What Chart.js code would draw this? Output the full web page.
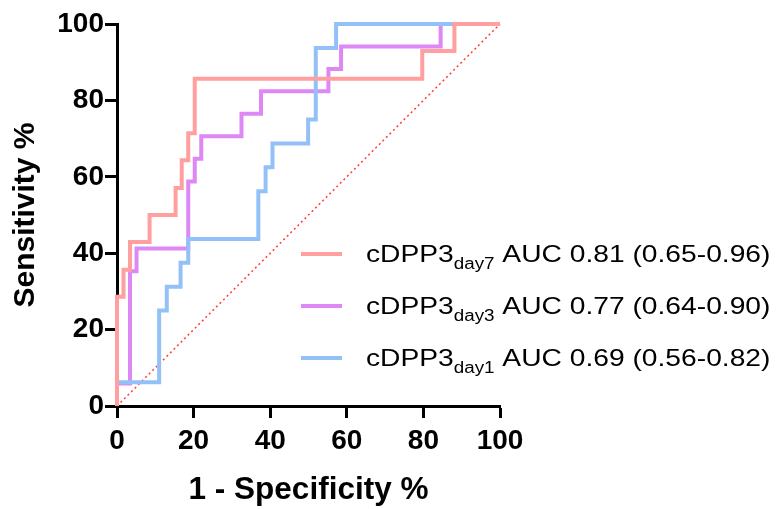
<!DOCTYPE html>
<html>
<head>
<meta charset="utf-8">
<script src="https://cdn.jsdelivr.net/npm/chart.js@4"></script>
<style>
  html, body { margin: 0; padding: 0; background: #fff; }
  #roc { display: block; }
</style>
</head>
<body>
<canvas id="roc" width="777" height="509"></canvas>
<script>
// ROC step vertices (1 - specificity %, sensitivity %)
const day7X = [0, 0, 1.7, 3.4, 8.5, 15.3, 16.9, 18.6, 20.3, 79.7, 88.1, 100];
const day7Y = [0, 28.6, 35.7, 42.9, 50, 57.1, 64.3, 71.4, 85.7, 92.9, 100, 100];

const day3X = [0, 0, 3.4, 5.1, 18.6, 20.3, 22.0, 32.5, 37.6, 55.2, 58.5, 84.5, 100];
const day3Y = [0, 5.9, 35.3, 41.2, 58.8, 64.7, 70.6, 76.5, 82.4, 88.2, 94.1, 100, 100];

const day1X = [0, 0, 11.0, 13.0, 16.6, 18.6, 36.9, 38.8, 40.6, 49.9, 51.9, 57.2, 100];
const day1Y = [0, 6.25, 25, 31.25, 37.5, 43.75, 56.25, 62.5, 68.75, 75, 93.75, 100, 100];

const refX = [0, 100];
const refY = [0, 100];

const axisTicks = [0, 20, 40, 60, 80, 100];

const legendMain = ['cDPP3', 'cDPP3', 'cDPP3'];
const legendSub = ['day7', 'day3', 'day1'];
const legendAuc = [' AUC 0.81 (0.65-0.96)', ' AUC 0.77 (0.64-0.90)', ' AUC 0.69 (0.56-0.82)'];

const colors = ['#FF9F9F', '#DD88F5', '#93C1F7'];

function toPoints(xs, ys) {
    return xs.map((x, i) => ({ x: x, y: ys[i] }));
}

function stepLine(xs, ys, color) {
    return {
        data: toPoints(xs, ys),
        borderColor: color,
        backgroundColor: color,
        borderWidth: 4,
        pointRadius: 0,
        stepped: 'before',
        showLine: true,
        clip: false
    };
}

// legend drawn by hand to get the subscripts
const rocLegend = {
    id: 'rocLegend',
    afterDraw(chart) {
        const ctx = chart.ctx;
        const rows = [254, 306, 358];
        ctx.save();
        rows.forEach((y, i) => {
            ctx.strokeStyle = colors[i];
            ctx.lineWidth = 4;
            ctx.beginPath();
            ctx.moveTo(301, y);
            ctx.lineTo(342, y);
            ctx.stroke();

            ctx.save();
            ctx.translate(366, y + 8);
            ctx.scale(1.175, 1);
            ctx.fillStyle = '#000';
            ctx.textBaseline = 'alphabetic';
            ctx.font = "24px 'Liberation Sans', Arial, sans-serif";
            ctx.fillText(legendMain[i], 0, 0);
            let w = ctx.measureText(legendMain[i]).width;
            ctx.font = "16px 'Liberation Sans', Arial, sans-serif";
            ctx.fillText(legendSub[i], w, 7);
            w += ctx.measureText(legendSub[i]).width;
            ctx.font = "24px 'Liberation Sans', Arial, sans-serif";
            ctx.fillText(legendAuc[i], w, 0);
            ctx.restore();
        });
        ctx.restore();
    }
};

function axisOptions(titleText, titleSize, titlePad, tickPad) {
    return {
        type: 'linear',
        min: 0,
        max: 100,
        afterBuildTicks: (scale) => {
            scale.ticks = axisTicks.map(v => ({ value: v }));
        },
        ticks: {
            color: '#000',
            padding: tickPad,
            font: { family: "'Liberation Sans', Arial, sans-serif", size: 28, weight: 'bold' }
        },
        grid: {
            display: true,
            drawOnChartArea: false,
            drawTicks: true,
            tickLength: 12,
            tickWidth: 3,
            tickColor: '#000'
        },
        border: { display: true, color: '#000', width: 3 },
        title: {
            display: true,
            text: titleText,
            color: '#000',
            padding: titlePad,
            font: { family: "'Liberation Sans', Arial, sans-serif", size: titleSize, weight: 'bold' }
        }
    };
}

const xOpts = axisOptions('1 - Specificity %', 31.5, { top: 0, bottom: 0 }, 6);
xOpts.afterFit = (scale) => { scale.height = 103; };
const yOpts = axisOptions('Sensitivity %', 30, { top: 8, bottom: 0 }, 1);
yOpts.afterFit = (scale) => { scale.width = 117; };

const refLine = {
    data: toPoints(refX, refY),
    borderColor: '#FF3B3B',
    borderWidth: 1.5,
    borderDash: [2, 3],
    pointRadius: 0,
    showLine: true,
    clip: false
};

new Chart(document.getElementById('roc'), {
    type: 'scatter',
    data: {
        datasets: [
            stepLine(day7X, day7Y, colors[0]),
            stepLine(day1X, day1Y, colors[2]),
            stepLine(day3X, day3Y, colors[1]),
            refLine
        ]
    },
    options: {
        responsive: false,
        animation: false,
        layout: { padding: { left: 0, right: 277, top: 24, bottom: 0 } },
        plugins: {
            legend: { display: false },
            tooltip: { enabled: false }
        },
        scales: { x: xOpts, y: yOpts }
    },
    plugins: [rocLegend]
});
</script>
</body>
</html>
